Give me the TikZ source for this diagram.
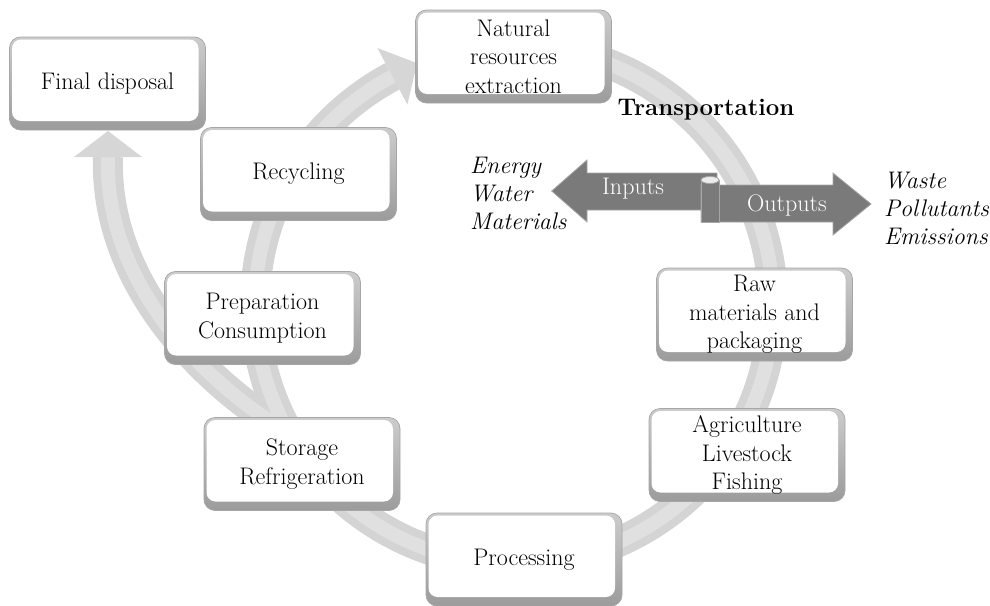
\documentclass[tikz,border=0pt]{standalone}
\begin{document}
\begin{tikzpicture}[x=1pt,y=-1pt,
  box/.style={rounded corners=11pt, draw=gray!70, line width=0.7pt,
    top color=gray!40, bottom color=gray!78,
    minimum width=196pt, minimum height=93pt, inner sep=0pt, align=center,
    font=\fontsize{24}{28.5}\selectfont,
    path picture={\fill[white, rounded corners=9pt]
      ([shift={(2.5pt,9pt)}]path picture bounding box.south west) rectangle
      ([shift={(-7pt,-2.5pt)}]path picture bounding box.north east);}},
  band/.style={line width=30pt, draw=gray!34},
  bandhi/.style={line width=14pt, draw=gray!24},
  headfill/.style={fill=gray!32},
  io/.style={fill=black!52, draw=black!35, line width=0.8pt},
  iotext/.style={text=white, inner sep=0pt, font=\fontsize{24}{28}\selectfont},
  itxt/.style={font=\itshape\fontsize{24}{28}\selectfont, align=left, inner sep=0pt, anchor=west}
]
\useasboundingbox (0,0) rectangle (990,605);

% bands: branch to final disposal and main cycle
\draw[band] (287,432) .. controls (200,380) and (104,280) .. (108,157);
\draw[band] (514,305) ++(-85:259) arc[start angle=85, end angle=-242, radius=259pt];
\draw[bandhi] (287,432) .. controls (200,380) and (104,280) .. (108,157);
\draw[bandhi] (514,305) ++(-85:259) arc[start angle=85, end angle=-242, radius=259pt];
\fill[headfill] (377.4,48) -- (417.1,63.2) -- (407.4,104.6) -- cycle;
\fill[headfill] (74,157) -- (108,131) -- (142,157) -- cycle;

% boxes
\node[box] (fin)  at (107.5,83.5) {Final disposal};
\node[box] (nat)  at (513.5,56.5) {Natural\\resources\\extraction};
\node[box] (rec)  at (298.5,174)  {Recycling};
\node[box] (prep) at (262.5,318)  {Preparation\\Consumption};
\node[box] (stor) at (302,464)    {Storage\\Refrigeration};
\node[box] (proc) at (524,559.5)  {Processing};
\node[box] (agri) at (747,455)    {Agriculture\\Livestock\\Fishing};
\node[box] (raw)  at (754.5,314.5) {Raw\\materials and\\packaging};

% inputs / outputs ribbon
\filldraw[io] (551.7,191) -- (587,160) -- (587,173) -- (717,173) -- (717,210)
  -- (587,210) -- (587,222) -- cycle;
\filldraw[io] (701,185) -- (833,185) -- (833,173) -- (871,204) -- (833,235)
  -- (833,222) -- (701,222) -- cycle;
\filldraw[io] (701,180) -- (701,222) -- (719,222) -- (719,180) -- cycle;
\filldraw[fill=gray!15, draw=black!35, line width=0.8pt] (710,180) ellipse [x radius=9, y radius=3.5];

\node[iotext] (inp)  at (633,189) {Inputs};
\node[iotext] (outp) at (787,205) {Outputs};

\node[font=\bfseries\fontsize{24}{28}\selectfont, inner sep=0pt] (trans) at (706,110) {Transportation};
\node[itxt] (inl)  at (470,193) {Energy\\Water\\Materials};
\node[itxt] (outl) at (884,208) {Waste\\Pollutants\\Emissions};
\end{tikzpicture}
\end{document}
